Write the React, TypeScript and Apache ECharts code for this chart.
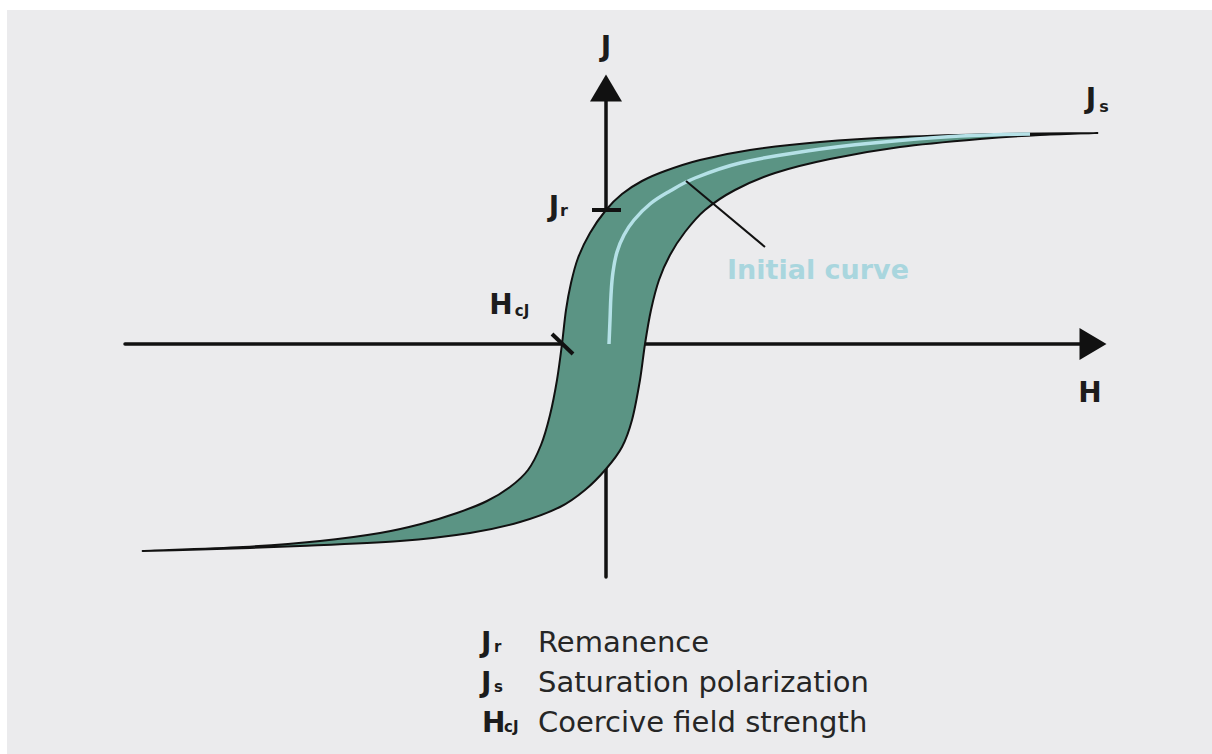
import React, { useEffect, useRef } from "react";
import * as echarts from "echarts";

// Axis extents (H in arbitrary field units, J in arbitrary polarization units)
const H_MIN = -9.62;
const H_MAX = 9.74;
const J_MIN = -1.165;
const J_MAX = 1.28;

// Descending (left / upper) branch of the hysteresis loop, ordered by H
const descH = [-9.26, -7.26, -5.72, -4.52, -3.7, -2.98, -2.38, -1.92, -1.56, -1.3, -1.12, -0.98, -0.88, -0.8, -0.7, -0.56, -0.32, 0, 0.32, 0.72, 1.18, 1.88, 2.88, 4.28, 5.88, 7.88, 9.82];
const descJ = [-1.035, -1.015, -0.985, -0.945, -0.9, -0.845, -0.785, -0.715, -0.63, -0.505, -0.355, -0.18, 0, 0.17, 0.305, 0.43, 0.555, 0.67, 0.75, 0.815, 0.865, 0.92, 0.97, 1.01, 1.035, 1.05, 1.055];

// Ascending (right / lower) branch of the hysteresis loop, ordered by H
const ascH = [-9.26, -8.12, -6.12, -4.12, -2.72, -1.72, -0.92, -0.42, 0, 0.32, 0.52, 0.68, 0.78, 0.9, 1.06, 1.28, 1.58, 1.98, 2.58, 3.38, 4.48, 5.88, 7.48, 8.68, 9.82];
const ascJ = [-1.035, -1.028, -1.01, -0.985, -0.945, -0.89, -0.815, -0.73, -0.625, -0.515, -0.38, -0.18, 0, 0.17, 0.32, 0.445, 0.56, 0.67, 0.77, 0.855, 0.925, 0.985, 1.025, 1.045, 1.055];

// Initial (virgin) magnetisation curve
const initH = [0.06, 0.08, 0.1, 0.14, 0.22, 0.36, 0.56, 0.88, 1.28, 1.78, 2.68, 4.02, 5.34, 7.08, 8.48];
const initJ = [0, 0.12, 0.245, 0.36, 0.46, 0.545, 0.62, 0.7, 0.765, 0.83, 0.905, 0.965, 1.005, 1.04, 1.05];

// Annotation marks
const pointerH = [1.6, 3.18];
const pointerJ = [0.815, 0.485];
const jrTickH = [-0.28, 0.3];
const jrTickJ = [0.67, 0.67];
const hcTickH = [-1.08, -0.66];
const hcTickJ = [0.05, -0.05];

// Legend entries
const legendSymbols = ["J", "J", "H"];
const legendSubs = ["r", "s", "cJ"];
const legendTexts = ["Remanence", "Saturation polarization", "Coercive field strength"];

const pairs = (xs: number[], ys: number[]) => xs.map((x, i) => [x, ys[i]]);

const BOLD = "DejaVu Sans";
const TEXT_DARK = "#1c1c1c";

export default function App() {
  const ref = useRef<HTMLDivElement>(null);
  useEffect(() => {
    if (!ref.current) return;
    const chart = echarts.init(ref.current, null, { renderer: "svg" });

    const txt = (text: string, x: number, y: number, size: number, opts: any = {}) => ({
      type: "text",
      x,
      y,
      silent: true,
      z: 10,
      style: {
        text,
        fontFamily: opts.family || BOLD,
        fontSize: size,
        fontWeight: opts.weight || "bold",
        fill: opts.color || TEXT_DARK,
        align: opts.align || "center",
        verticalAlign: "middle",
      },
    });

    const legendGraphics: any[] = [];
    legendTexts.forEach((t, i) => {
      const cy = 642 + i * 40;
      legendGraphics.push(txt(legendSymbols[i], legendSymbols[i] === "H" ? 482 : 481, cy, 28, { align: "left" }));
      legendGraphics.push(
        txt(legendSubs[i], legendSymbols[i] === "H" ? 504 : 494, cy + 5, 15, { align: "left" })
      );
      legendGraphics.push(txt(t, 538, cy, 29, { align: "left", weight: "normal", color: "#262626" }));
    });

    const option: any = {
      animation: false,
      grid: { left: 125, right: 119, top: 88, bottom: 177 },
      xAxis: {
        type: "value",
        min: H_MIN,
        max: H_MAX,
        axisLine: {
          show: true,
          onZero: true,
          symbol: ["none", "triangle"],
          symbolSize: [32, 27],
          lineStyle: { color: "#111", width: 3.5 },
        },
        axisTick: { show: false },
        axisLabel: { show: false },
        splitLine: { show: false },
      },
      yAxis: {
        type: "value",
        min: J_MIN,
        max: J_MAX,
        axisLine: {
          show: true,
          onZero: true,
          symbol: ["none", "triangle"],
          symbolSize: [32, 27],
          lineStyle: { color: "#111", width: 3.5 },
        },
        axisTick: { show: false },
        axisLabel: { show: false },
        splitLine: { show: false },
      },
      graphic: [
        {
          type: "rect",
          z: -100,
          silent: true,
          shape: { x: 7, y: 10, width: 1205, height: 744 },
          style: { fill: "#ebebed" },
        },
        txt("J", 606, 46, 28),
        txt("H", 1090, 392, 28),
        txt("J", 1091, 98, 28),
        txt("s", 1104, 106, 16, { align: "center" }),
        txt("J", 554, 206, 28),
        txt("r", 564, 210, 16),
        txt("H", 501, 304, 28),
        txt("cJ", 522, 311, 15),
        txt("Initial curve", 818, 269, 27, { color: "#a9d6de" }),
        ...legendGraphics,
      ],
      series: [
        {
          type: "custom",
          coordinateSystem: "cartesian2d",
          clip: false,
          silent: true,
          z: 3,
          data: [[0, 0]],
          renderItem: (_params: any, api: any) => {
            const pts: number[][] = [];
            for (let i = 0; i < descH.length; i++) pts.push(api.coord([descH[i], descJ[i]]));
            for (let i = ascH.length - 2; i >= 1; i--) pts.push(api.coord([ascH[i], ascJ[i]]));
            return {
              type: "polygon",
              shape: { points: pts, smooth: 0.3 },
              style: { fill: "#5b9484", stroke: "#111", lineWidth: 2 },
            };
          },
        },
        {
          type: "line",
          z: 4,
          clip: false,
          silent: true,
          smooth: 0.4,
          symbol: "none",
          data: pairs(initH, initJ),
          lineStyle: { color: "#b5e1e7", width: 3.5 },
        },
        {
          type: "line",
          z: 5,
          clip: false,
          silent: true,
          symbol: "none",
          data: pairs(pointerH, pointerJ),
          lineStyle: { color: "#111", width: 2 },
        },
        {
          type: "line",
          z: 5,
          clip: false,
          silent: true,
          symbol: "none",
          data: pairs(jrTickH, jrTickJ),
          lineStyle: { color: "#111", width: 4 },
        },
        {
          type: "line",
          z: 5,
          clip: false,
          silent: true,
          symbol: "none",
          data: pairs(hcTickH, hcTickJ),
          lineStyle: { color: "#111", width: 4 },
        },
      ],
    };
    chart.setOption(option);
    return () => chart.dispose();
  }, []);

  return (
    <div
      ref={ref}
      style={{ position: "absolute", left: 0, top: 0, width: 1212, height: 754, background: "#ffffff" }}
    />
  );
}
